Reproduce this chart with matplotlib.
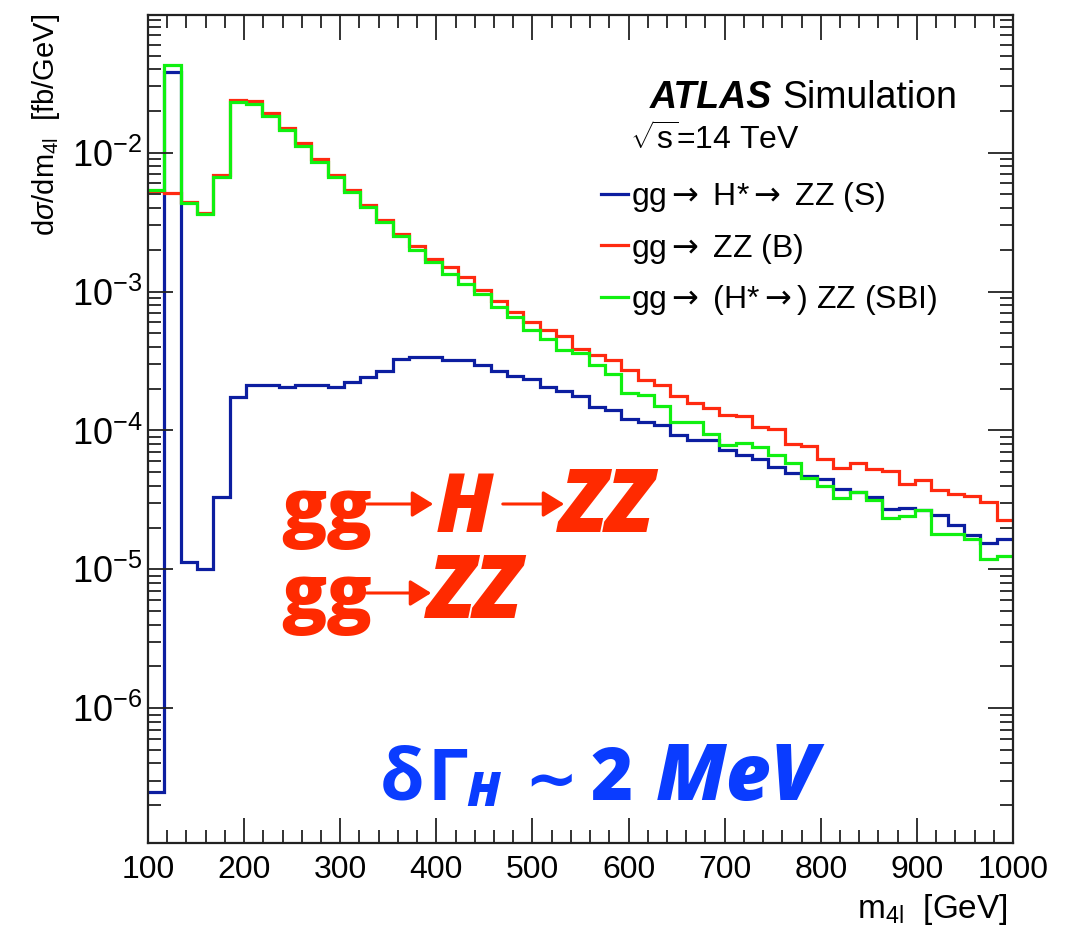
import numpy as np
import matplotlib
matplotlib.use("Agg")
import matplotlib.pyplot as plt
from matplotlib.ticker import LogLocator, MultipleLocator, NullFormatter
from matplotlib.lines import Line2D
from matplotlib.patches import FancyArrowPatch

plt.rcParams['font.family'] = ['Liberation Sans', 'DejaVu Sans']
plt.rcParams['mathtext.fontset'] = 'custom'
plt.rcParams['mathtext.rm'] = 'Liberation Sans'
plt.rcParams['mathtext.it'] = 'Liberation Sans:italic'
plt.rcParams['mathtext.bf'] = 'Liberation Sans:bold'
plt.rcParams['mathtext.sf'] = 'DejaVu Sans'  # only used for the arrows

# ======================== DATA ========================
# 53 bins between 100 and 1000 GeV
m4l_lo, m4l_hi, n_bins = 100, 1000, 53

# gg -> H* -> ZZ (S)
sig = [2.5e-7, 0.0379, 1.12e-5, 1.01e-5, 3.3e-5, 1.74e-4, 2.13e-4, 2.13e-4, 2.05e-4, 2.11e-4,
       2.11e-4, 2.05e-4, 2.25e-4, 2.44e-4, 2.67e-4, 3.28e-4, 3.37e-4, 3.37e-4, 3.23e-4, 3.23e-4,
       2.97e-4, 2.7e-4, 2.45e-4, 2.36e-4, 2.05e-4, 1.92e-4, 1.76e-4, 1.47e-4, 1.41e-4, 1.21e-4,
       1.15e-4, 1.09e-4, 9.2e-5, 8.6e-5, 8.6e-5, 7.2e-5, 6.7e-5, 6.25e-5, 5.44e-5, 4.96e-5,
       4.7e-5, 4.47e-5, 3.8e-5, 3.58e-5, 3.3e-5, 2.72e-5, 2.78e-5, 2.66e-5, 2.45e-5, 2.08e-5,
       1.76e-5, 1.55e-5, 1.64e-5]

# gg -> ZZ (B)
bkg = [5.3e-3, 5.13e-3, 4.4e-3, 3.67e-3, 6.95e-3, 0.0239, 0.0234, 0.0192, 0.0151, 0.0117,
       9.0e-3, 6.95e-3, 5.4e-3, 4.23e-3, 3.28e-3, 2.6e-3, 2.14e-3, 1.72e-3, 1.5e-3, 1.27e-3,
       1.03e-3, 8.5e-4, 7.1e-4, 6.0e-4, 5.3e-4, 4.77e-4, 3.83e-4, 3.52e-4, 3.23e-4, 2.73e-4,
       2.29e-4, 2.14e-4, 1.77e-4, 1.58e-4, 1.45e-4, 1.30e-4, 1.26e-4, 1.06e-4, 1.03e-4, 8.0e-5,
       7.67e-5, 6.18e-5, 5.4e-5, 5.86e-5, 5.3e-5, 5.07e-5, 4.13e-5, 4.41e-5, 3.74e-5, 3.46e-5,
       3.4e-5, 3.05e-5, 2.25e-5]

# gg -> (H* ->) ZZ (SBI)
sbi = [5.4e-3, 0.0428, 4.35e-3, 3.62e-3, 6.7e-3, 0.023, 0.0224, 0.0185, 0.0146, 0.0112,
       8.6e-3, 6.7e-3, 5.2e-3, 4.08e-3, 3.19e-3, 2.53e-3, 2.0e-3, 1.62e-3, 1.33e-3, 1.13e-3,
       9.6e-4, 7.7e-4, 6.6e-4, 5.25e-4, 4.57e-4, 3.8e-4, 3.6e-4, 2.97e-4, 2.53e-4, 1.85e-4,
       1.79e-4, 1.51e-4, 1.15e-4, 1.15e-4, 9.35e-5, 7.8e-5, 8.15e-5, 7.6e-5, 6.6e-5, 5.8e-5,
       4.55e-5, 3.95e-5, 3.26e-5, 3.6e-5, 3.18e-5, 2.36e-5, 2.41e-5, 2.66e-5, 1.81e-5, 1.81e-5,
       1.64e-5, 1.19e-5, 1.24e-5]

y_major = [1e-6, 1e-5, 1e-4, 1e-3, 1e-2]

arr = r"${\mathsf{\rightarrow}}$"
labels = ["gg" + arr + " H*" + arr + " ZZ (S)",
          "gg" + arr + " ZZ (B)",
          "gg" + arr + " (H*" + arr + ") ZZ (SBI)"]

# ======================== STYLE ========================
W, H = 1077, 932
c_sig, c_bkg, c_sbi = "#0c1ea0", "#ff2a10", "#10f010"
c_red_txt, c_blue_txt = "#ff2a00", "#0a3cff"

fig = plt.figure(figsize=(W / 100, H / 100), dpi=100)
ax = fig.add_axes([148 / W, 1 - 843 / H, 865 / W, 828 / H])

edges = np.linspace(m4l_lo, m4l_hi, n_bins + 1)
ax.stairs(sig, edges, color=c_sig, lw=2.3, baseline=None)
ax.stairs(bkg, edges, color=c_bkg, lw=2.3, baseline=None)
ax.stairs(sbi, edges, color=c_sbi, lw=2.3, baseline=None)

ax.set_yscale("log")
ax.set_xlim(m4l_lo, m4l_hi)
ax.set_ylim(1.07e-7, 0.098)

ax.xaxis.set_major_locator(MultipleLocator(100))
ax.xaxis.set_minor_locator(MultipleLocator(20))
ax.set_yticks(y_major)
ax.yaxis.set_minor_locator(LogLocator(base=10, subs=np.arange(2, 10), numticks=20))
ax.yaxis.set_minor_formatter(NullFormatter())

ax.tick_params(which="both", direction="in", top=True, right=True, width=1.3, color="#222222")
ax.tick_params(which="major", length=18)
ax.tick_params(which="minor", length=9.5)
ax.tick_params(axis="x", which="major", labelsize=23, pad=9)
ax.tick_params(axis="y", which="major", labelsize=26, pad=4)
for s in ax.spines.values():
    s.set_linewidth(1.6)
    s.set_color("#222222")

# axis titles (ROOT style, aligned at the end of the axis)
fig.text(1008 / W, 1 - 918 / H, r"m$_{\mathrm{4l}}$  [GeV]", fontsize=24,
         ha="right", va="baseline")
fig.text(30 / W, 1 - 14 / H, r"d$\sigma$/dm$_{\mathrm{4l}}$  [fb/GeV]", fontsize=21,
         rotation=90, ha="left", va="top")

# ATLAS label
fig.text(650 / W, 1 - 108 / H, "ATLAS", fontsize=27, fontweight="bold", style="italic",
         va="baseline")
fig.text(782 / W, 1 - 108 / H, "Simulation", fontsize=27, va="baseline")
fig.text(630 / W, 1 - 150 / H, r"$\sqrt{\mathrm{s}}$=14 TeV", fontsize=23, va="baseline")

# legend
handles = [Line2D([], [], color=c, lw=2.3) for c in (c_sig, c_bkg, c_sbi)]
ax.legend(handles, labels, loc="upper left", bbox_to_anchor=(601 / W, 1 - 180 / H),
          bbox_transform=fig.transFigure, frameon=False, fontsize=23,
          handlelength=0.85, handletextpad=0.1, labelspacing=0.55, borderpad=0,
          borderaxespad=0)

# overlaid annotations
big = ["Open Sans", "DejaVu Sans"]


def put(x, y, s, **kw):
    fig.text(x / W, 1 - y / H, s, va="baseline", ha="left", family=big, **kw)


def arrow(x0, x1, y, color):
    a = FancyArrowPatch((x0 / W, 1 - y / H), (x1 / W, 1 - y / H), transform=fig.transFigure,
                        arrowstyle="-|>,head_length=13,head_width=8", lw=2.2,
                        color=color, mutation_scale=1)
    fig.add_artist(a)


put(281, 532, "gg", fontsize=54, fontweight="heavy", color=c_red_txt)
arrow(364, 436, 504, c_red_txt)
put(436, 532, "H", fontsize=58, fontweight="heavy", style="italic", color=c_red_txt)
arrow(500, 567, 504, c_red_txt)
put(560, 532, "ZZ", fontsize=63, fontweight="heavy", style="italic", color=c_red_txt)

put(281, 618, "gg", fontsize=54, fontweight="heavy", color=c_red_txt)
arrow(364, 434, 593, c_red_txt)
put(428, 618, "ZZ", fontsize=63, fontweight="heavy", style="italic", color=c_red_txt)

put(380, 800, "\u03b4", fontsize=52, fontweight="bold", color=c_blue_txt)
put(427, 800, "\u0393", fontsize=52, fontweight="bold", color=c_blue_txt)
put(466, 806, "H", fontsize=34, fontweight="heavy", style="italic", color=c_blue_txt)
fig.text(524 / W, 1 - 800 / H, "\u223c", fontsize=46, fontweight="bold",
         color=c_blue_txt, va="baseline", ha="left", family=["DejaVu Sans"])
put(590, 800, "2", fontsize=52, fontweight="heavy", color=c_blue_txt)
put(656, 800, "MeV", fontsize=56, fontweight="heavy", style="italic", color=c_blue_txt)

fig.savefig("out.png", dpi=100)
